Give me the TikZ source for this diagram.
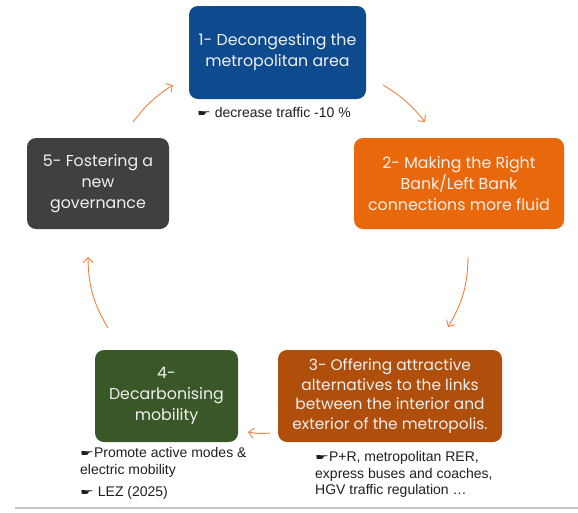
\documentclass[tikz,border=0pt]{standalone}
\usepackage{fontspec}
\usepackage{graphicx}
\setmainfont{Liberation Sans}
\newfontfamily\popfont{Poppins}
\newfontfamily\symfont{DejaVu Sans}
\usetikzlibrary{arrows.meta}
\definecolor{cblue}{HTML}{0E4A8E}
\definecolor{corange}{HTML}{EA680C}
\definecolor{cbrown}{HTML}{B04E0C}
\definecolor{cgreen}{HTML}{3A5727}
\definecolor{cgray}{HTML}{404040}
\definecolor{carrow}{HTML}{EE8040}
\newcommand{\hand}{\raisebox{0.6pt}{\scalebox{1.4}[0.8]{\symfont\fontsize{11}{11}\selectfont ☛}}}
\begin{document}
\begin{tikzpicture}[x=1pt,y=-1pt,
  stepbox/.style={rounded corners=9pt, inner sep=0pt, align=center, text=white!94!black,
    font=\popfont\fontsize{15.8}{21}\selectfont},
  note/.style={anchor=base west, inner sep=0pt, text=black!88,
    font=\fontsize{14}{16.5}\selectfont},
  cyc/.style={draw=carrow, line width=0.9pt, -{Straight Barb[length=5pt,width=10pt]}}]
\useasboundingbox (0,0) rectangle (578,512);
\node[stepbox, fill=cblue, minimum width=177pt, minimum height=93pt] (b1) at (277.5,52.5)
  {1- Decongesting the\\metropolitan area};
\node[stepbox, fill=corange, minimum width=210pt, minimum height=91pt] (b2) at (459,183.5)
  {2- Making the Right\\Bank/Left Bank\\connections more fluid};
\node[stepbox, fill=cbrown, minimum width=224pt, minimum height=92pt,
  font=\popfont\fontsize{15.4}{19.5}\selectfont] (b3) at (390,396)
  {3- Offering attractive\\alternatives to the links\\between the interior and\\exterior of the metropolis.};
\node[stepbox, fill=cgreen, minimum width=143pt, minimum height=92pt] (b4) at (166.5,396)
  {4-\\Decarbonising\\mobility};
\node[stepbox, fill=cgray, minimum width=142pt, minimum height=91pt] (b5) at (98,183.5)
  {5- Fostering a\\new\\governance};
\node[note] (n1) at (197,117.5) {\hand\ decrease traffic -10 \%};
\node[note] (n4a) at (80,457.5) {\hand Promote active modes \&};
\node[note] (n4b) at (80,474) {electric mobility};
\node[note] (n4c) at (80,496.5) {\hand\ LEZ (2025)};
\node[note] (n3a) at (315,461.5) {\hand P+R, metropolitan RER,};
\node[note] (n3b) at (315,478) {express buses and coaches,};
\node[note] (n3c) at (315,494.5) {HGV traffic regulation …};
\coordinate (a1s) at (383,85);  \coordinate (a1e) at (425,122);
\coordinate (a2s) at (468,257); \coordinate (a2e) at (448,327);
\coordinate (a3s) at (270,433); \coordinate (a3e) at (248,432);
\coordinate (a4s) at (108,328); \coordinate (a4e) at (88,257);
\coordinate (a5s) at (133,122); \coordinate (a5e) at (173,85);
\draw[cyc] (a1s) to[bend left=10] (a1e);
\draw[cyc] (a2s) to[bend left=15] (a2e);
\draw[cyc] (a3s) to[bend left=8] (a3e);
\draw[cyc] (a4s) to[bend left=15] (a4e);
\draw[cyc] (a5s) to[bend left=10] (a5e);
\coordinate (l1) at (15,508); \coordinate (l2) at (578,508);
\draw[draw=black!22, line width=1.5pt] (l1) -- (l2);
\end{tikzpicture}
\end{document}
